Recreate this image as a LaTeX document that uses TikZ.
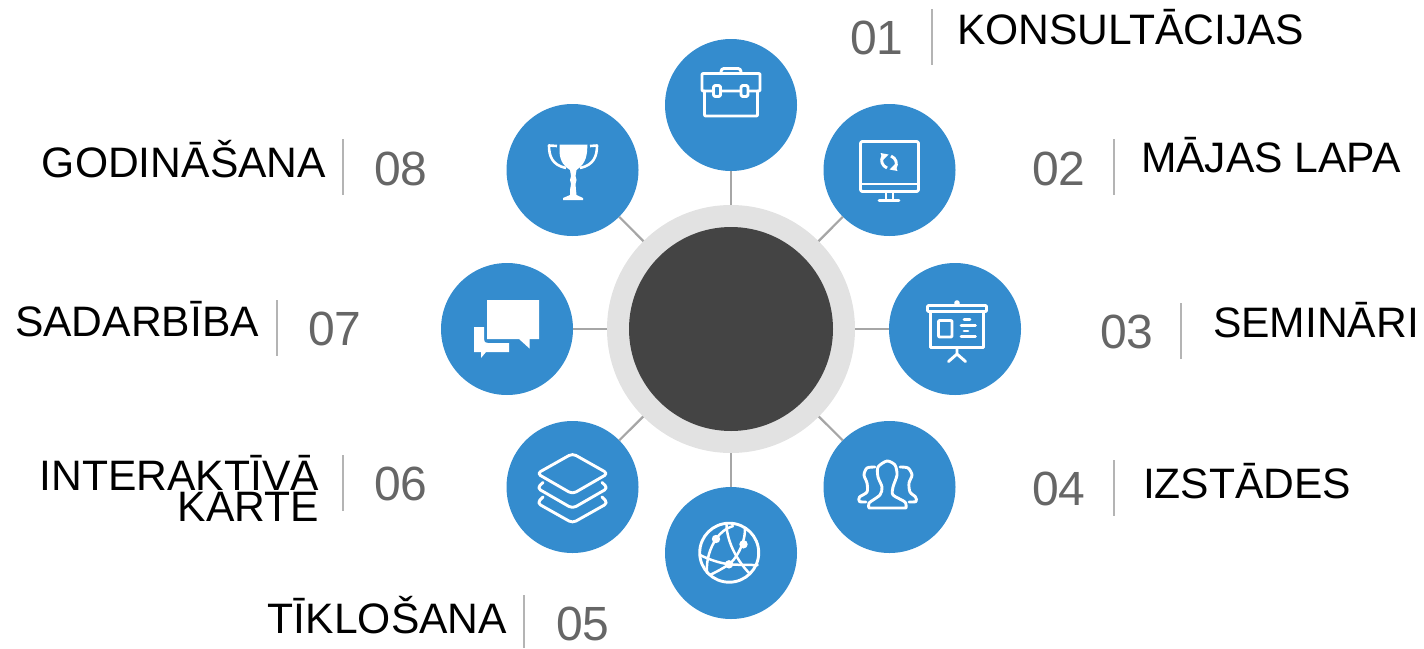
\documentclass[tikz,border=0pt]{standalone}
\usepackage{fontspec}
\setmainfont{Liberation Sans}
\definecolor{hubblue}{HTML}{348CCE}
\definecolor{hubdark}{HTML}{444444}
\definecolor{hubring}{HTML}{E2E2E2}
\definecolor{linkgray}{HTML}{A6A6A6}
\definecolor{numgray}{HTML}{666666}
\definecolor{sepgray}{HTML}{B4B4B4}
\tikzset{
  spoke/.style={circle,fill=hubblue,minimum size=132pt,inner sep=0pt,outer sep=0pt},
  link/.style={draw=linkgray,line width=2.2pt},
  sep/.style={draw=sepgray,line width=2.4pt},
  label/.style={inner sep=0pt,outer sep=0pt,font=\fontsize{42.6}{29}\selectfont,text=black},
  num/.style={inner sep=0pt,outer sep=0pt,font=\fontsize{48}{48}\selectfont,text=numgray,anchor=base west},
  icon/.style={draw=white,line width=2.9pt,line join=round,line cap=round},
}
\begin{document}
\begin{tikzpicture}[x=1pt,y=-1pt]
\useasboundingbox (0,0) rectangle (1424,648);
% hub
\node[circle,fill=hubring,minimum size=248pt,inner sep=0pt,outer sep=0pt] (ring) at (731,329) {};
\node[circle,fill=hubdark,minimum size=204pt,inner sep=0pt,outer sep=0pt] (hub) at (731,329) {};
% spokes
\node[spoke] (s1) at (731,105) {};
\node[spoke] (s2) at (889.5,170) {};
\node[spoke] (s3) at (955,329) {};
\node[spoke] (s4) at (889.5,487) {};
\node[spoke] (s5) at (731,553) {};
\node[spoke] (s6) at (572.5,487) {};
\node[spoke] (s7) at (507,329) {};
\node[spoke] (s8) at (572.5,170) {};
\foreach \i in {1,...,8} \draw[link] (ring) -- (s\i);
% briefcase
\draw[icon,rounded corners=1pt] (702,73.5) rectangle (760,91);
\draw[icon,rounded corners=1pt] (704.5,91) -- (704.5,116) -- (757.5,116) -- (757.5,91);
\draw[icon,rounded corners=3pt] (721,73) -- (721,68.5) -- (741,68.5) -- (741,73);
\draw[icon,rounded corners=1.5pt,fill=hubblue] (713.5,85.5) rectangle (720.5,96.5);
\draw[icon,rounded corners=1.5pt,fill=hubblue] (741,85.5) rectangle (748,96.5);
% monitor
\draw[icon,rounded corners=2pt] (860.5,141.5) rectangle (918.5,191.5);
\draw[icon] (860.5,184) -- (918.5,184);
\draw[icon] (886,192) -- (886,200) (893,192) -- (893,200) (879,200.5) -- (899,200.5);
\draw[icon,line cap=butt] (883,156) .. controls (880,160) and (882,166) .. (887,168);
\draw[icon,line cap=butt] (895,168) .. controls (898,164) and (896,158) .. (891,156);
\fill[white] (880.5,153) -- (888.5,154.5) -- (883,160) -- cycle;
\fill[white] (897.5,171) -- (889.5,169.5) -- (895,164) -- cycle;
% presentation
\draw[icon,rounded corners=1pt] (927.5,305.5) rectangle (986.5,311.5);
\draw[icon] (930.5,312) -- (930.5,347.5) -- (983.5,347.5) -- (983.5,312);
\fill[white] (957,303) circle (2.8pt);
\draw[icon,rounded corners=1pt] (938.5,320.5) rectangle (952,337);
\draw[icon] (964,319.5) -- (970,319.5) (961,325.5) -- (975.5,325.5) (964,331) -- (968,331) (961,336.5) -- (975.5,336.5);
\draw[icon] (957,348) -- (957,354) (948.5,361.5) -- (957,354) -- (965.5,361.5);
% people
\draw[icon] plot[smooth,tension=0.45] coordinates {(869,508) (869,503) (880,495) (882,487) (878,477) (878,467) (887,461) (895,465) (897,475) (893,487) (893,495) (905,502) (906,508)} -- cycle;
\draw[icon] plot[smooth,tension=0.5] coordinates {(875,467) (867,468) (864,475) (867,483) (867,492) (859.5,497) (859.5,501.5) (866,502)};
\draw[icon] plot[smooth,tension=0.5] coordinates {(900,467) (908,468) (912,475) (909,483) (910,492) (915.5,497) (916,501.5) (909,502)};
% globe
\draw[icon] (729.2,552.7) circle (29.5pt);
\draw[icon,line width=2.5pt] (726.5,525) .. controls (727,540) and (735,558) .. (749,573);
\draw[icon,line width=2.5pt] (745,529) .. controls (745,545) and (735,560) .. (729,564.3) .. controls (722,569) and (716,572) .. (710,575);
\draw[icon,line width=2.5pt] (700,555) .. controls (710,560) and (720,563) .. (729,564.3) .. controls (740,565) and (750,565) .. (757.5,565);
\draw[icon,line width=2.5pt] (733,526) .. controls (726,528) and (720,533) .. (716,539) .. controls (710,548) and (706,560) .. (707,573);
\fill[white] (716,539) circle (4.2pt) (743.5,544.3) circle (4.2pt) (729,564.3) circle (4.2pt);
% layers
\draw[icon,rounded corners=4pt] (572.5,453.5) -- (608,473.5) -- (572.5,494) -- (537,473.5) -- cycle;
\draw[icon,rounded corners=4pt] (543,482.5) -- (537,488) -- (572.5,508.5) -- (608,488) -- (602,482.5);
\draw[icon,rounded corners=4pt] (543,497) -- (537,503) -- (572.5,523) -- (608,503) -- (602,497);
% chat
\fill[white] (487,300) -- (539,300) -- (539,339) -- (529.5,339) -- (529.5,348.5) -- (519,339) -- (487,339) -- cycle;
\fill[white] (474,327) -- (484,327) -- (484,339) .. controls (484,342) and (485,343) .. (488,343) -- (509,343) -- (509,352) -- (486,352) -- (481,358) -- (481,352) -- (474,352) -- cycle;
% trophy
\fill[white] (559.5,144.5) -- (587.5,144.5) -- (587,152) .. controls (586,162) and (581,167) .. (576.5,170) -- (575.5,176) -- (576.5,180) -- (575.5,184) -- (576,190) -- (576.5,195) -- (583,198) -- (583,200) -- (563,200) -- (563,198) -- (570,195) -- (570,190) -- (571,184) -- (570,180) -- (571,176) -- (570,170) .. controls (565,167) and (560,162) .. (559.5,152) -- cycle;
\draw[icon,line cap=butt,line width=2.6pt] (557,146) -- (549,145.5) .. controls (549,156) and (552,165) .. (566,168);
\draw[icon,line cap=butt,line width=2.6pt] (590,146) -- (597,145.5) .. controls (597,156) and (594,165) .. (580,168);
% separators
\coordinate (a1) at (932,9); \coordinate (b1) at (932,65);
\coordinate (a2) at (1114,139); \coordinate (b2) at (1114,195);
\coordinate (a3) at (1181,303); \coordinate (b3) at (1181,359);
\coordinate (a4) at (1114,460); \coordinate (b4) at (1114,516);
\coordinate (a5) at (524,595); \coordinate (b5) at (524,648);
\coordinate (a6) at (343,455); \coordinate (b6) at (343,511);
\coordinate (a7) at (277,300); \coordinate (b7) at (277,356);
\coordinate (a8) at (343,139); \coordinate (b8) at (343,195);
\foreach \i in {1,...,8} \draw[sep] (a\i) -- (b\i);
% numbers
\node[num] (n1) at (850,54) {01};
\node[num] (n2) at (1032,185) {02};
\node[num] (n3) at (1100,348) {03};
\node[num] (n4) at (1032,505) {04};
\node[num] (n5) at (556,640) {05};
\node[num] (n6) at (374,500) {06};
\node[num] (n7) at (308,345) {07};
\node[num] (n8) at (374,185) {08};
% labels
\node[label,anchor=base west] (l1) at (957,44) {KONSULTĀCIJAS};
\node[label,anchor=base west] (l2) at (1141,172) {MĀJAS LAPA};
\node[label,anchor=base west] (l3) at (1213,337) {SEMINĀRI};
\node[label,anchor=base west] (l4) at (1143,498) {IZSTĀDES};
\node[label,anchor=base east] (l5) at (507,633) {TĪKLOŠANA};
\node[label,anchor=base east,align=right] (l6) at (319,521) {INTERAKTĪVĀ\\KARTE};
\node[label,anchor=base east] (l7) at (259,336) {SADARBĪBA};
\node[label,anchor=base east] (l8) at (326,177) {GODINĀŠANA};
\end{tikzpicture}
\end{document}
